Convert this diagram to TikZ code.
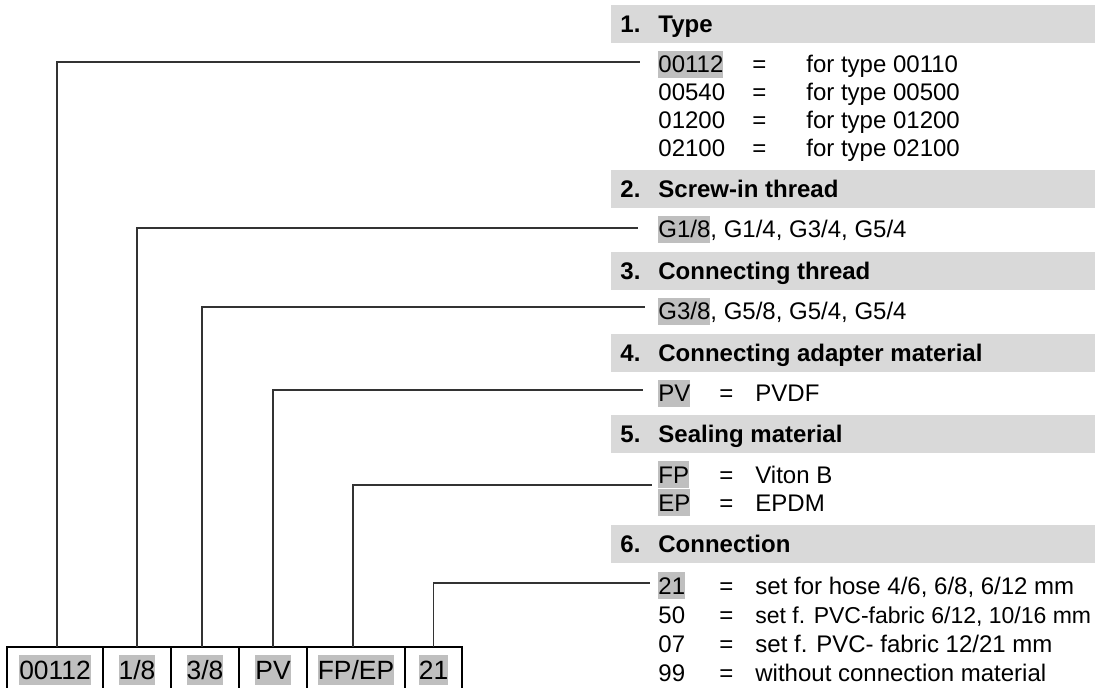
\documentclass[tikz,border=0pt]{standalone}
\usepackage{fontspec}
\setmainfont{Liberation Sans}
\usetikzlibrary{positioning}
\definecolor{barfill}{HTML}{D9D9D9}
\definecolor{markfill}{HTML}{BFBFBF}
\newcommand{\mk}[1]{{\setlength{\fboxsep}{0pt}\colorbox{markfill}{\rule[-0.21em]{0pt}{1.117em}#1}}}
\tikzset{%
  lead/.style={draw=black!80,line width=0.65pt},%
  cell/.style={draw,line width=1pt,outer sep=0pt,inner sep=0pt,
    minimum height=23pt,font=\fontsize{13.2}{15}\selectfont},%
  head/.style={anchor=base west,inner sep=0pt,
    font=\fontsize{12}{14}\selectfont\bfseries},%
  entry/.style={anchor=base west,inner sep=0pt,
    font=\fontsize{12}{14}\selectfont}}

\begin{document}
\begin{tikzpicture}[x=0.5pt,y=-0.5pt]
  \useasboundingbox (0,0) rectangle (1095,688);
  % header bars
  \fill[barfill] (611,5) rectangle (1095,43);
  \fill[barfill] (611,170) rectangle (1095,208);
  \fill[barfill] (611,252) rectangle (1095,290);
  \fill[barfill] (611,334) rectangle (1095,372);
  \fill[barfill] (611,415) rectangle (1095,453);
  \fill[barfill] (611,525) rectangle (1095,563);
  \node[head] (n1) at (620,32.6) {1.};
  \node[head] (h1) at (658,32.6) {Type};
  \node[head] (n2) at (620,197.6) {2.};
  \node[head] (h2) at (658,197.6) {Screw-in thread};
  \node[head] (n3) at (620,279.6) {3.};
  \node[head] (h3) at (658,279.6) {Connecting thread};
  \node[head] (n4) at (620,361.6) {4.};
  \node[head] (h4) at (658,361.6) {Connecting adapter material};
  \node[head] (n5) at (620,442.6) {5.};
  \node[head] (h5) at (658,442.6) {Sealing material};
  \node[head] (n6) at (620,552.6) {6.};
  \node[head] (h6) at (658,552.6) {Connection};
  % 1. type
  \node[entry] (ty1) at (658,73) {\mk{00112}};
  \node[entry] (ty1e) at (752,73) {=};
  \node[entry] (ty1d) at (806,73) {for type 00110};
  \node[entry] (ty2) at (658,101) {00540};
  \node[entry] (ty2e) at (752,101) {=};
  \node[entry] (ty2d) at (806,101) {for type 00500};
  \node[entry] (ty3) at (658,129) {01200};
  \node[entry] (ty3e) at (752,129) {=};
  \node[entry] (ty3d) at (806,129) {for type 01200};
  \node[entry] (ty4) at (658,157) {02100};
  \node[entry] (ty4e) at (752,157) {=};
  \node[entry] (ty4d) at (806,157) {for type 02100};
  % 2. and 3. threads
  \node[entry] (sc1) at (658,238) {\mk{G1/8}, G1/4, G3/4, G5/4};
  \node[entry] (co1) at (658,320) {\mk{G3/8}, G5/8, G5/4, G5/4};
  % 4. adapter material
  \node[entry] (ad1) at (658,402) {\mk{PV}};
  \node[entry] (ad1e) at (719,402) {=};
  \node[entry] (ad1d) at (755,402) {PVDF};
  % 5. sealing
  \node[entry] (se1) at (658,483) {\mk{FP}};
  \node[entry] (se1e) at (719,483) {=};
  \node[entry] (se1d) at (755,483) {Viton B};
  \node[entry] (se2) at (658,511) {\mk{EP}};
  \node[entry] (se2e) at (719,511) {=};
  \node[entry] (se2d) at (755,511) {EPDM};
  % 6. connection
  \node[entry] (cn1) at (658,594) {\mk{21}};
  \node[entry] (cn1e) at (719,594) {=};
  \node[entry] (cn1d) at (755,594) {set for hose 4/6, 6/8, 6/12 mm};
  \node[entry] (cn2) at (658,623) {50};
  \node[entry] (cn2e) at (719,623) {=};
  \node[entry,font=\fontsize{11.5}{14}\selectfont] (cn2d) at (755,623)
    {set f. PVC-fabric 6/12, 10/16 mm};
  \node[entry] (cn3) at (658,652) {07};
  \node[entry] (cn3e) at (719,652) {=};
  \node[entry] (cn3d) at (755,652) {set f. PVC- fabric 12/21 mm};
  \node[entry] (cn4) at (658,681) {99};
  \node[entry] (cn4e) at (719,681) {=};
  \node[entry] (cn4d) at (755,681) {without connection material};
  % order code cells
  \node[cell,minimum width=48pt,anchor=north west] (c1) at (7,647) {\mk{00112}};
  \node[cell,minimum width=34pt,right=0pt of c1] (c2) {\mk{1/8}};
  \node[cell,minimum width=34pt,right=0pt of c2] (c3) {\mk{3/8}};
  \node[cell,minimum width=34pt,right=0pt of c3] (c4) {\mk{PV}};
  \node[cell,minimum width=49pt,right=0pt of c4] (c5) {\mk{FP/EP}};
  \node[cell,minimum width=28.5pt,right=0pt of c5] (c6) {\mk{21}};
  % leaders
  \coordinate (e1) at (640,62);
  \coordinate (e2) at (638,228);
  \coordinate (e3) at (645,307);
  \coordinate (e4) at (643,390);
  \coordinate (e5) at (652,485);
  \coordinate (e6) at (650,583);
  \draw[lead] ([xshift=1pt]c1.north) |- (e1);
  \draw[lead] (c2.north) |- (e2);
  \draw[lead] ([xshift=-1.5pt]c3.north) |- (e3);
  \draw[lead] (c4.north) |- (e4);
  \draw[lead] ([xshift=-1.5pt]c5.north) |- (e5);
  \draw[lead] (c6.north) |- (e6);
\end{tikzpicture}
\end{document}
